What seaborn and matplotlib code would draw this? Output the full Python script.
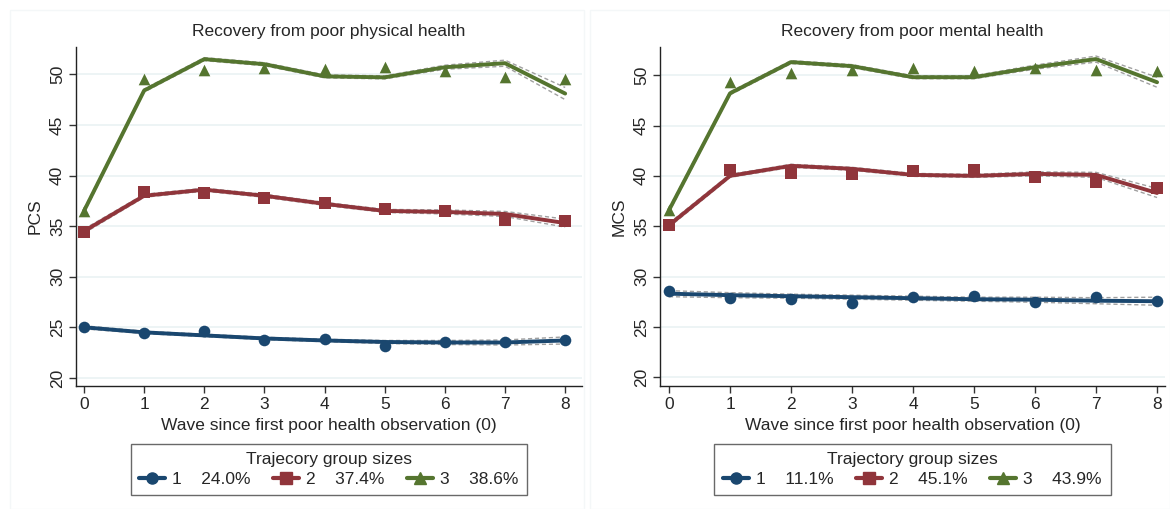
import numpy as np
import pandas as pd
import seaborn as sns
import matplotlib.pyplot as plt
from matplotlib.lines import Line2D
from matplotlib.patches import Rectangle

waves = [0, 1, 2, 3, 4, 5, 6, 7, 8]
groups = ['1', '2', '3']

# PCS (physical) - fitted trajectories, observed means, CI half widths
pcs_fit = {
    '1': [25.0, 24.5, 24.2, 23.9, 23.7, 23.55, 23.5, 23.5, 23.7],
    '2': [34.5, 38.0, 38.6, 38.0, 37.2, 36.5, 36.4, 36.2, 35.3],
    '3': [36.5, 48.4, 51.5, 51.0, 49.8, 49.7, 50.7, 51.1, 48.1],
}
pcs_obs = {
    '1': [25.0, 24.4, 24.6, 23.7, 23.85, 23.2, 23.5, 23.5, 23.7],
    '2': [34.4, 38.35, 38.25, 37.8, 37.3, 36.7, 36.5, 35.6, 35.5],
    '3': [36.5, 49.5, 50.4, 50.6, 50.5, 50.7, 50.3, 49.7, 49.5],
}
pcs_ci = {
    '1': [0.15, 0.12, 0.12, 0.12, 0.12, 0.15, 0.2, 0.25, 0.35],
    '2': [0.2, 0.15, 0.15, 0.15, 0.15, 0.15, 0.2, 0.25, 0.4],
    '3': [0.2, 0.15, 0.15, 0.15, 0.15, 0.15, 0.2, 0.3, 0.6],
}
pcs_sizes = ['24.0%', '37.4%', '38.6%']

# MCS (mental)
mcs_fit = {
    '1': [28.3, 28.15, 28.05, 27.95, 27.85, 27.75, 27.7, 27.6, 27.55],
    '2': [35.1, 40.0, 41.0, 40.7, 40.1, 40.0, 40.2, 40.1, 38.3],
    '3': [36.6, 48.2, 51.3, 50.9, 49.8, 49.8, 50.8, 51.6, 49.3],
}
mcs_obs = {
    '1': [28.55, 27.9, 27.8, 27.4, 27.95, 28.1, 27.5, 27.95, 27.6],
    '2': [35.1, 40.6, 40.3, 40.2, 40.5, 40.6, 39.9, 39.4, 38.8],
    '3': [36.6, 49.3, 50.2, 50.5, 50.7, 50.4, 50.7, 50.5, 50.4],
}
mcs_ci = {
    '1': [0.3, 0.25, 0.2, 0.2, 0.2, 0.2, 0.25, 0.3, 0.4],
    '2': [0.2, 0.15, 0.15, 0.15, 0.15, 0.15, 0.2, 0.25, 0.45],
    '3': [0.2, 0.15, 0.15, 0.15, 0.15, 0.15, 0.2, 0.3, 0.5],
}
mcs_sizes = ['11.1%', '45.1%', '43.9%']

colors = {'1': '#1a476f', '2': '#90353b', '3': '#55752f'}
markers = {'1': 'o', '2': 's', '3': '^'}

sns.set_theme(style='white')
plt.rcParams['font.family'] = ['Liberation Sans', 'DejaVu Sans']

fig = plt.figure(figsize=(11.7, 5.09), dpi=100)
fig.patches.append(Rectangle((10 / 1170, 0), 574 / 1170, 499 / 509, transform=fig.transFigure,
                             fill=False, edgecolor='#f4f7f8', lw=1))
fig.patches.append(Rectangle((590 / 1170, 0), 580 / 1170, 499 / 509, transform=fig.transFigure,
                             fill=False, edgecolor='#f4f7f8', lw=1))


def make_df(fit, obs, ci):
    rows = []
    for g in groups:
        for w, f, o, c in zip(waves, fit[g], obs[g], ci[g]):
            rows.append({'wave': w, 'group': g, 'fit': f, 'obs': o, 'lo': f - c, 'hi': f + c})
    return pd.DataFrame(rows)


def draw_panel(ax, fit, obs, ci, sizes, title, ylab, legtitle, xlim, ylim):
    df = make_df(fit, obs, ci)
    for y in [20, 25, 30, 35, 40, 45, 50]:
        ax.axhline(y, color='#eaf2f3', lw=1.2, zorder=0)
    for g in groups:
        d = df[df['group'] == g]
        sns.lineplot(data=d, x='wave', y='lo', ax=ax, color='#a0a0a0', lw=1, ls=(0, (3, 2)), zorder=2)
        sns.lineplot(data=d, x='wave', y='hi', ax=ax, color='#a0a0a0', lw=1, ls=(0, (3, 2)), zorder=2)
        sns.lineplot(data=d, x='wave', y='fit', ax=ax, color=colors[g], lw=2.8, zorder=3)
        sns.scatterplot(data=d, x='wave', y='obs', ax=ax, color=colors[g], marker=markers[g],
                        s=70, edgecolor=colors[g], linewidth=0, zorder=4)
    ax.set_xlim(*xlim)
    ax.set_ylim(*ylim)
    ax.set_xticks(waves)
    ax.set_yticks([20, 25, 30, 35, 40, 45, 50])
    ax.tick_params(axis='both', which='both', direction='out', length=5, width=1, color='#333333',
                   labelsize=12.5, left=True, bottom=True, pad=3)
    ax.tick_params(axis='y', labelrotation=90)
    for lab in ax.get_yticklabels():
        lab.set_verticalalignment('center')
    for s in ['top', 'right']:
        ax.spines[s].set_visible(False)
    for s in ['left', 'bottom']:
        ax.spines[s].set_color('#222222')
        ax.spines[s].set_linewidth(1)
    ax.set_title(title, fontsize=12.5, pad=8)
    ax.set_xlabel('Wave since first poor health observation (0)', fontsize=12.5, labelpad=4)
    ax.set_ylabel(ylab, fontsize=12.5, labelpad=5)
    handles = [Line2D([0], [0], color=colors[g], lw=3, marker=markers[g], markersize=8) for g in groups]
    labels = [f'{g}    {s}' for g, s in zip(groups, sizes)]
    leg = ax.legend(handles, labels, title=legtitle, ncol=3, loc='upper center',
                    bbox_to_anchor=(0.5, -0.17), frameon=True, fancybox=False,
                    fontsize=12.5, title_fontsize=12.5, handlelength=1.5, handletextpad=0.4,
                    columnspacing=1.3, borderpad=0.5, labelspacing=0.25, borderaxespad=0)
    leg.get_frame().set_edgecolor('#444444')
    leg.get_frame().set_linewidth(1)


ax1 = fig.add_axes([76 / 1170, 123 / 509, 506 / 1170, 339 / 509])
ax2 = fig.add_axes([660 / 1170, 123 / 509, 505 / 1170, 339 / 509])

draw_panel(ax1, pcs_fit, pcs_obs, pcs_ci, pcs_sizes, 'Recovery from poor physical health', 'PCS',
           'Trajecory group sizes', (-0.133, 8.28), (19.2, 52.7))
draw_panel(ax2, mcs_fit, mcs_obs, mcs_ci, mcs_sizes, 'Recovery from poor mental health', 'MCS',
           'Trajectory group sizes', (-0.148, 8.13), (19.13, 52.8))

fig.savefig('out.png', dpi=100)
